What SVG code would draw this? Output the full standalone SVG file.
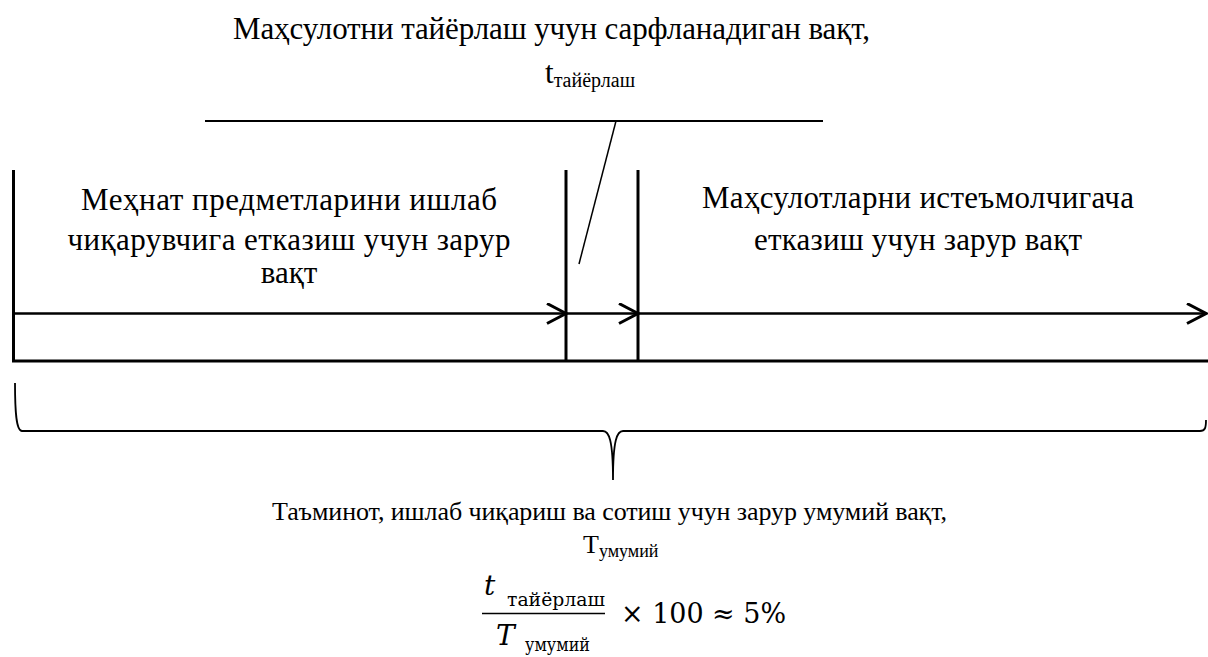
<svg xmlns="http://www.w3.org/2000/svg" width="1208" height="657" viewBox="0 0 1208 657">
<defs>
<marker id="chev" markerUnits="userSpaceOnUse" markerWidth="24" markerHeight="24" refX="20" refY="11" orient="auto">
<path d="M1,1 L20,11 L1,21" fill="none" stroke="#000" stroke-width="3"/>
</marker>
</defs>
<rect width="1208" height="657" fill="#fff"/>
<g id="title">
<text x="551.5" y="39" text-anchor="middle" font-size="31" font-family="Liberation Serif" textLength="637">Маҳсулотни тайёрлаш учун сарфланадиган вақт,</text>
<text x="545" y="83" font-size="31" font-family="Liberation Serif">t<tspan font-size="20" dy="4">тайёрлаш</tspan></text>
</g>
<g id="left-node">
<text x="289" y="210" text-anchor="middle" font-size="31" font-family="Liberation Serif" textLength="416">Меҳнат предметларини ишлаб</text>
<text x="289" y="250" text-anchor="middle" font-size="31" font-family="Liberation Serif" textLength="443">чиқарувчига етказиш учун зарур</text>
<text x="289" y="283" text-anchor="middle" font-size="31" font-family="Liberation Serif">вақт</text>
</g>
<g id="right-node">
<text x="918" y="208" text-anchor="middle" font-size="31" font-family="Liberation Serif" textLength="432">Маҳсулотларни истеъмолчигача</text>
<text x="918" y="250" text-anchor="middle" font-size="31" font-family="Liberation Serif" textLength="328">етказиш учун зарур вақт</text>
</g>
<g id="bottom">
<text x="609.5" y="520" text-anchor="middle" font-size="26" font-family="Liberation Serif" textLength="675">Таъминот, ишлаб чиқариш ва сотиш учун зарур умумий вақт,</text>
<text x="583" y="553" font-size="26" font-family="Liberation Serif">Т<tspan font-size="18" dy="4">умумий</tspan></text>
</g>
<g id="formula">
<text x="484" y="595" font-size="28" font-style="italic" font-family="DejaVu Serif">t</text>
<text x="507" y="606" font-size="18" textLength="98" lengthAdjust="spacingAndGlyphs" font-family="DejaVu Serif">тайёрлаш</text>
<line x1="482" y1="613.5" x2="605" y2="613.5" stroke="#000" stroke-width="1.6"/>
<text x="496" y="645" font-size="28" font-style="italic" font-family="DejaVu Serif">T</text>
<text x="525" y="651" font-size="18" textLength="65" lengthAdjust="spacingAndGlyphs" font-family="DejaVu Serif">умумий</text>
<text x="621" y="623" font-size="27" textLength="165" lengthAdjust="spacingAndGlyphs" font-family="DejaVu Serif">× 100 ≈ 5%</text>
</g>
<g id="connectors" stroke="#000" fill="none">
<line x1="205" y1="121" x2="823" y2="121" stroke-width="2"/>
<line x1="616" y1="121" x2="579" y2="264" stroke-width="1.5"/>
<line x1="13.5" y1="170" x2="13.5" y2="362" stroke-width="3"/>
<line x1="566" y1="170" x2="566" y2="362" stroke-width="3"/>
<line x1="638" y1="170" x2="638" y2="362" stroke-width="3"/>
<line x1="12" y1="361" x2="1208" y2="361" stroke-width="3"/>
<line x1="13" y1="313.5" x2="566" y2="313.5" stroke-width="2.5" marker-end="url(#chev)"/>
<line x1="566" y1="313.5" x2="638" y2="313.5" stroke-width="2.5" marker-end="url(#chev)"/>
<line x1="638" y1="313.5" x2="1206" y2="313.5" stroke-width="2.5" marker-end="url(#chev)"/>
<path stroke-width="1.8" d="M15,383 C15,410 16,431 22,431 L603,431 C609,431 613,440 613,480 C613,440 617,431 623,431 L1200,431 C1205,431 1206,428 1206,420"/>
</g>
</svg>
